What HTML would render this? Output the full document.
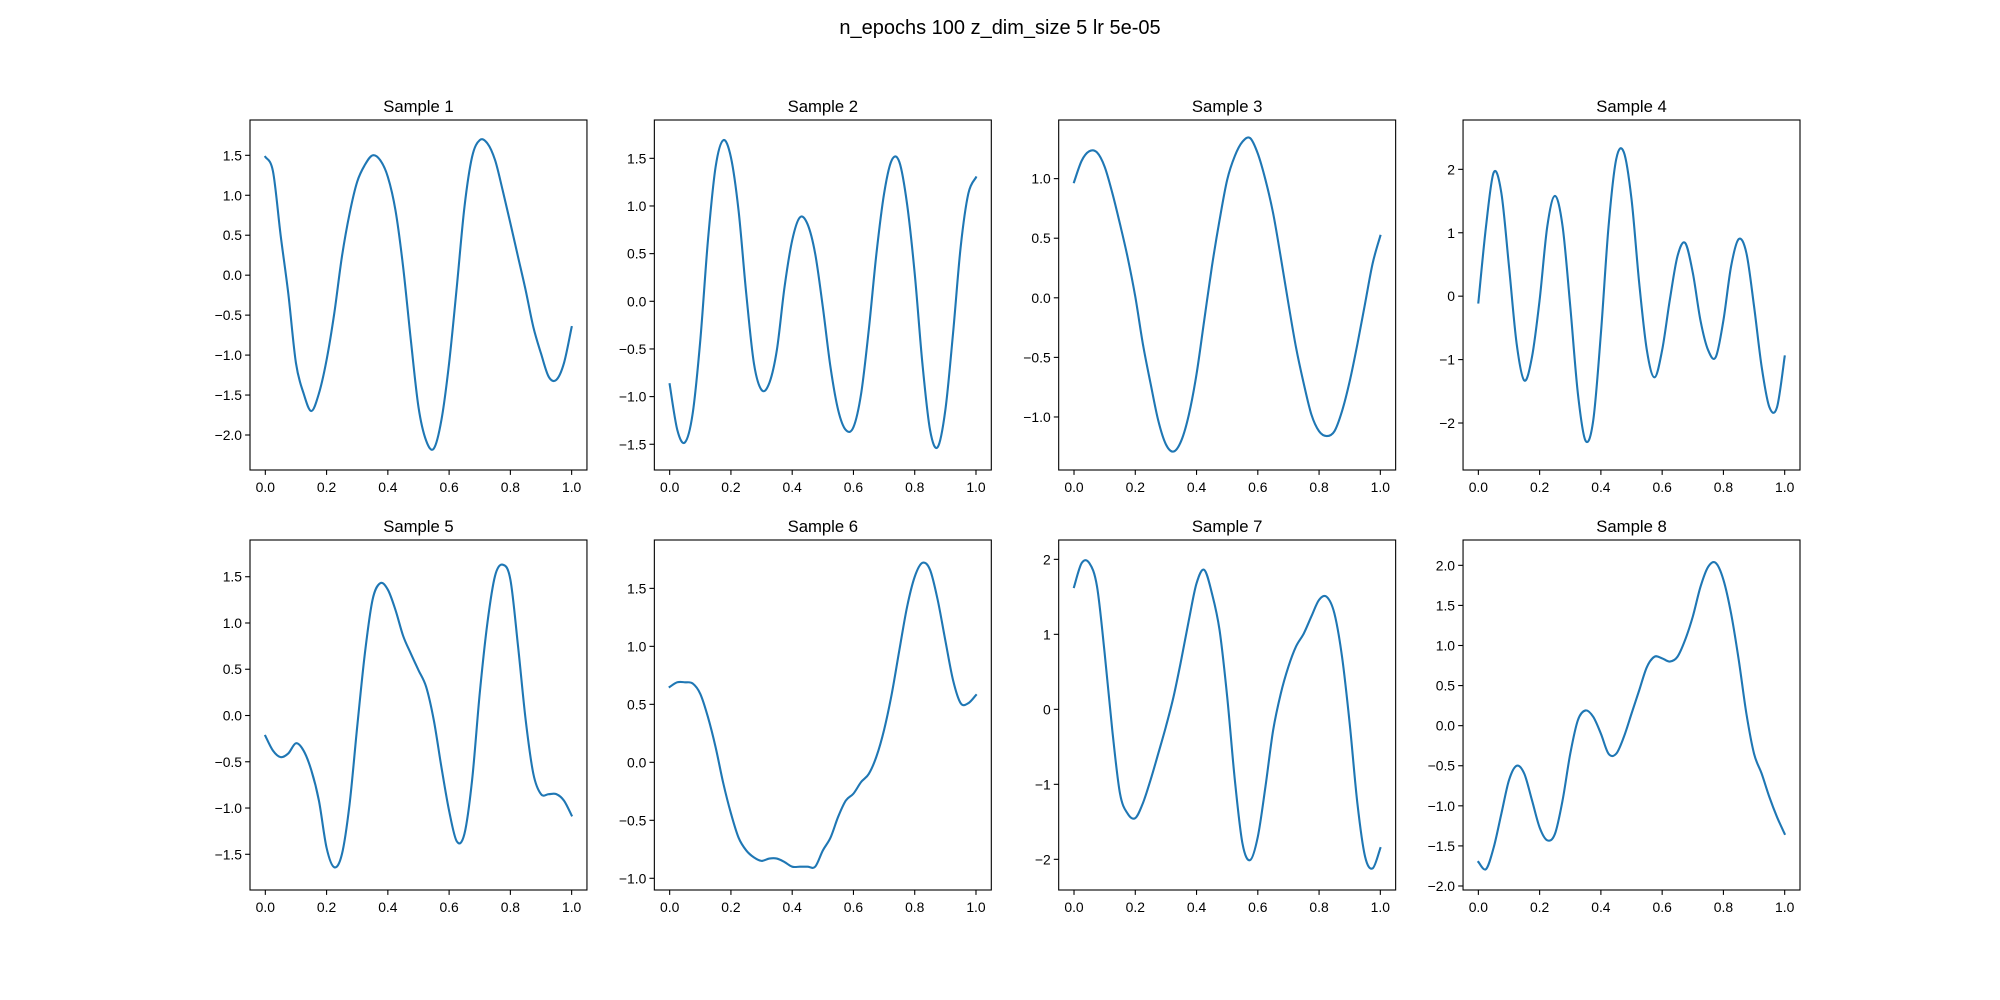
<!DOCTYPE html>
<html><head><meta charset="utf-8"><style>
html,body{margin:0;padding:0;background:#fff;}
svg{display:block;font-family:"Liberation Sans","DejaVu Sans",sans-serif;}
</style></head><body>
<svg id="fig" width="2000" height="1000" viewBox="0 0 2000 1000" xmlns="http://www.w3.org/2000/svg">
<rect width="2000" height="1000" fill="#fff"/>
<text x="1000" y="34" font-size="20" text-anchor="middle" fill="#000">n_epochs 100 z_dim_size 5 lr 5e-05</text>
</svg>
<script>
const xTicks = [0.0, 0.2, 0.4, 0.6, 0.8, 1.0];
const xTickLabels = ["0.0","0.2","0.4","0.6","0.8","1.0"];
const xs = [0,0.025,0.05,0.075,0.1,0.125,0.15,0.175,0.2,0.225,0.25,0.275,0.3,0.325,0.35,0.375,0.4,0.425,0.45,0.475,0.5,0.525,0.55,0.575,0.6,0.625,0.65,0.675,0.7,0.725,0.75,0.775,0.8,0.825,0.85,0.875,0.9,0.925,0.95,0.975,1.0];
const s1 = [1.48,1.3,0.5,-0.23,-1.1,-1.48,-1.7,-1.48,-1.06,-0.48,0.23,0.77,1.17,1.38,1.5,1.44,1.23,0.81,0.1,-0.81,-1.65,-2.07,-2.17,-1.81,-1.1,-0.15,0.85,1.48,1.69,1.65,1.44,1.06,0.65,0.23,-0.19,-0.65,-0.98,-1.27,-1.31,-1.1,-0.65];
const s2 = [-0.87,-1.35,-1.48,-1.18,-0.41,0.64,1.41,1.69,1.51,0.95,0.08,-0.65,-0.93,-0.86,-0.51,0.15,0.64,0.88,0.81,0.5,-0.06,-0.69,-1.14,-1.35,-1.32,-0.97,-0.3,0.5,1.13,1.48,1.46,1.02,0.29,-0.65,-1.35,-1.53,-1.14,-0.34,0.57,1.13,1.3];
const s3 = [0.97,1.15,1.23,1.22,1.1,0.88,0.62,0.34,0.01,-0.39,-0.72,-1.03,-1.23,-1.29,-1.2,-0.98,-0.64,-0.19,0.26,0.65,0.99,1.19,1.31,1.34,1.21,0.99,0.71,0.34,-0.05,-0.42,-0.72,-0.98,-1.12,-1.16,-1.12,-0.95,-0.7,-0.39,-0.05,0.29,0.52];
const s4 = [-0.1,1.1,1.95,1.63,0.47,-0.75,-1.33,-0.96,-0.06,1.1,1.58,1.1,-0.16,-1.54,-2.28,-1.96,-0.59,1.1,2.16,2.27,1.53,0.21,-0.85,-1.28,-0.85,-0.06,0.63,0.84,0.37,-0.38,-0.85,-0.96,-0.38,0.47,0.9,0.68,-0.16,-1.12,-1.75,-1.75,-0.95];
const s5 = [-0.22,-0.38,-0.45,-0.41,-0.3,-0.38,-0.59,-0.92,-1.43,-1.64,-1.5,-0.96,-0.12,0.67,1.25,1.43,1.36,1.14,0.86,0.67,0.49,0.31,-0.05,-0.56,-1.03,-1.36,-1.28,-0.7,0.24,1.0,1.51,1.63,1.47,0.75,-0.05,-0.63,-0.85,-0.85,-0.85,-0.92,-1.08];
const s6 = [0.65,0.69,0.69,0.68,0.59,0.39,0.13,-0.18,-0.44,-0.65,-0.76,-0.82,-0.85,-0.83,-0.83,-0.86,-0.9,-0.9,-0.9,-0.9,-0.76,-0.65,-0.47,-0.33,-0.27,-0.17,-0.1,0.05,0.28,0.59,0.97,1.34,1.6,1.72,1.66,1.4,1.05,0.71,0.51,0.51,0.58];
const s7 = [1.63,1.95,1.95,1.64,0.75,-0.28,-1.12,-1.39,-1.45,-1.25,-0.94,-0.59,-0.23,0.17,0.66,1.19,1.68,1.86,1.55,1.06,0.17,-0.94,-1.79,-2.01,-1.7,-1.03,-0.28,0.21,0.57,0.84,1.01,1.24,1.46,1.5,1.28,0.7,-0.19,-1.25,-1.96,-2.12,-1.85];
const s8 = [-1.7,-1.79,-1.52,-1.1,-0.68,-0.5,-0.6,-0.93,-1.27,-1.43,-1.35,-0.93,-0.35,0.07,0.19,0.11,-0.1,-0.35,-0.35,-0.14,0.15,0.44,0.73,0.86,0.84,0.8,0.86,1.07,1.36,1.73,1.98,2.03,1.82,1.4,0.82,0.15,-0.35,-0.6,-0.89,-1.14,-1.35];
const yTicks1 = [-2.0,-1.5,-1.0,-0.5,0.0,0.5,1.0,1.5];
const yTicks2 = [-1.5,-1.0,-0.5,0.0,0.5,1.0,1.5];
const yTicks3 = [-1.0,-0.5,0.0,0.5,1.0];
const yTicks4 = [-2,-1,0,1,2];
const yTicks5 = [-1.5,-1.0,-0.5,0.0,0.5,1.0,1.5];
const yTicks6 = [-1.0,-0.5,0.0,0.5,1.0,1.5];
const yTicks7 = [-2,-1,0,1,2];
const yTicks8 = [-2.0,-1.5,-1.0,-0.5,0.0,0.5,1.0,1.5,2.0];
const yLims = [[-2.438,1.942],[-1.77,1.902],[-1.445,1.492],[-2.741,2.778],[-1.886,1.897],[-1.101,1.917],[-2.409,2.258],[-2.05,2.316]];
const series = [s1,s2,s3,s4,s5,s6,s7,s8];
const yTicksAll = [yTicks1,yTicks2,yTicks3,yTicks4,yTicks5,yTicks6,yTicks7,yTicks8];
const intTicks = [false,false,false,true,false,false,true,false];

const NS = "http://www.w3.org/2000/svg";
const svg = document.getElementById('fig');
function mk(tag, attrs, parent){ const e=document.createElementNS(NS,tag); for(const k in attrs) e.setAttribute(k,attrs[k]); parent.appendChild(e); return e; }
function fmt(v, isInt){ let s = isInt ? String(Math.round(v)) : v.toFixed(1); return s.replace('-', '\u2212'); }
function smoothPath(p){
  let d = 'M'+p[0][0].toFixed(2)+','+p[0][1].toFixed(2);
  for(let i=0;i<p.length-1;i++){
    const p0=p[Math.max(0,i-1)], p1=p[i], p2=p[i+1], p3=p[Math.min(p.length-1,i+2)];
    const c1x=p1[0]+(p2[0]-p0[0])/6, c1y=p1[1]+(p2[1]-p0[1])/6;
    const c2x=p2[0]-(p3[0]-p1[0])/6, c2y=p2[1]-(p3[1]-p1[1])/6;
    d += ' C'+c1x.toFixed(2)+','+c1y.toFixed(2)+' '+c2x.toFixed(2)+','+c2y.toFixed(2)+' '+p2[0].toFixed(2)+','+p2[1].toFixed(2);
  }
  return d;
}

const W = 1550/4.6, gap = W*0.2, H = 350;
for(let i=0;i<8;i++){
  const col=i%4, row=Math.floor(i/4);
  const L = 250 + col*(W+gap), T = 120 + row*(H+70);
  const [y0,y1] = yLims[i];
  const xf = v => L + (v+0.05)/1.1*W;
  const yf = v => T + H - (v-y0)/(y1-y0)*H;
  const g = mk('g',{},svg);
  
  
  const t = mk('text',{x:L+W/2,y:T-8,'font-size':16.7,'text-anchor':'middle',fill:'#000'},g);
  t.textContent = 'Sample '+(i+1);
  
  
  const pts = xs.map((x,j)=>[xf(x), yf(series[i][j])]);
  const pl = mk('path',{d:smoothPath(pts),fill:'none',stroke:'#1f77b4','stroke-width':2.1,'stroke-linejoin':'round','stroke-linecap':'square'},g);
  
  
  const fr = mk('rect',{x:L,y:T,width:W,height:H,fill:'none',stroke:'#000','stroke-width':1.1},g);
  
  
  xTicks.forEach((v,k)=>{
    const x=xf(v);
    const tk = mk('line',{x1:x,x2:x,y1:T+H,y2:T+H+4.9,stroke:'#000','stroke-width':1.1},g);
    
    
    const lb = mk('text',{x:x,y:T+H+22,'font-size':13.9,'text-anchor':'middle',fill:'#000'},g);
    lb.textContent = xTickLabels[k];
    
    
  });
  yTicksAll[i].forEach(v=>{
    const y=yf(v);
    const tk = mk('line',{x1:L-4.9,x2:L,y1:y,y2:y,stroke:'#000','stroke-width':1.1},g);
    
    
    const lb = mk('text',{x:L-8,y:y+5,'font-size':13.9,'text-anchor':'end',fill:'#000'},g);
    lb.textContent = fmt(v,intTicks[i]);
    
    
  });
}
</script>
</body></html>
